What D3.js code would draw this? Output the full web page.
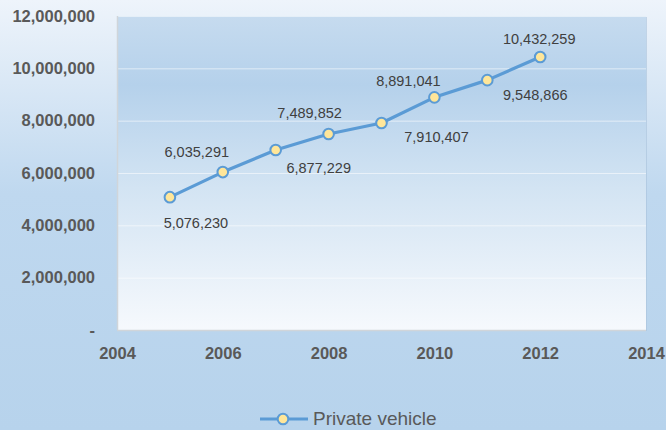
<!DOCTYPE html>
<html><head><meta charset="utf-8">
<script src="https://cdn.jsdelivr.net/npm/d3@7"></script>
<style>html,body{margin:0;padding:0;overflow:hidden;}</style>
</head><body>
<svg id="c" width="666" height="430"></svg>
<script>
const years = [2005, 2006, 2007, 2008, 2009, 2010, 2011, 2012];
const values = [5076230, 6035291, 6877229, 7489852, 7910407, 8891041, 9548866, 10432259];
const seriesName = "Private vehicle";
const xTicks = [2004, 2006, 2008, 2010, 2012, 2014];
const yTicks = [0, 2000000, 4000000, 6000000, 8000000, 10000000, 12000000];
// label offsets (layout) relative to each point: [dx, dy baseline]
const labelOffsets = [[26,31],[-26,-15],[43,23],[-19,-16],[55,19],[-26,-11],[48,20],[-1,-13]];

const svg = d3.select("#c");
const W = 666, H = 430;
const m = {l:117, r:20, t:16, b:100};
const pw = 646 - m.l, ph = 330 - m.t;

const defs = svg.append("defs");
const og = defs.append("linearGradient").attr("id","outer").attr("x1",0).attr("y1",0).attr("x2",0).attr("y2",1);
og.append("stop").attr("offset","0%").attr("stop-color","#eef4fb");
og.append("stop").attr("offset","45%").attr("stop-color","#bfd8ef");
og.append("stop").attr("offset","100%").attr("stop-color","#b7d3ec");
const pg = defs.append("linearGradient").attr("id","plot").attr("x1",0).attr("y1",0).attr("x2",0).attr("y2",1);
pg.append("stop").attr("offset","0%").attr("stop-color","#c6dbef");
pg.append("stop").attr("offset","22%").attr("stop-color","#b5d1eb");
pg.append("stop").attr("offset","55%").attr("stop-color","#d3e4f3");
pg.append("stop").attr("offset","100%").attr("stop-color","#f6f9fd");

svg.append("rect").attr("width",W).attr("height",H).attr("fill","url(#outer)");

const x = d3.scaleLinear().domain([2004, 2014]).range([m.l, m.l + pw]);
const y = d3.scaleLinear().domain([0, 12000000]).range([m.t + ph, m.t]);

// plot area shadow + fill
svg.append("rect").attr("x", m.l+1).attr("y", m.t+1).attr("width", pw).attr("height", ph)
  .attr("fill","#a9c2da").attr("opacity",0.6);
svg.append("rect").attr("x", m.l).attr("y", m.t).attr("width", pw).attr("height", ph)
  .attr("fill","url(#plot)");

// gridlines
svg.append("g").selectAll("line").data(yTicks.filter(d=>d>0)).join("line")
  .attr("x1", m.l).attr("x2", m.l+pw).attr("y1", d=>y(d)+0.5).attr("y2", d=>y(d)+0.5)
  .attr("stroke","#ffffff").attr("stroke-opacity",0.55).attr("stroke-width",1);

// axis borders
svg.append("line").attr("x1", m.l+0.5).attr("x2", m.l+0.5).attr("y1", m.t).attr("y2", m.t+ph)
  .attr("stroke","#d0d5da").attr("stroke-width",1.5);
svg.append("line").attr("x1", m.l).attr("x2", m.l+pw).attr("y1", m.t+ph+0.5).attr("y2", m.t+ph+0.5)
  .attr("stroke","#d0d5da").attr("stroke-width",1.5);

const font = "'Liberation Sans', Arial, sans-serif";
const fmt = d3.format(",");

// Y axis
const yAxis = d3.axisLeft(y).tickValues(yTicks).tickSize(0).tickPadding(22)
  .tickFormat(d => d === 0 ? "-" : fmt(d));
const gy = svg.append("g").attr("transform", `translate(${m.l},0)`).call(yAxis);
gy.select(".domain").remove();
gy.selectAll("text").attr("font-family", font).attr("font-size", 16.5).attr("font-weight","bold")
  .attr("fill","#595959");

// X axis
const xAxis = d3.axisBottom(x).tickValues(xTicks).tickSize(0).tickPadding(17).tickFormat(d3.format("d"));
const gx = svg.append("g").attr("transform", `translate(0,${m.t+ph})`).call(xAxis);
gx.select(".domain").remove();
gx.selectAll("text").attr("font-family", font).attr("font-size", 16.5).attr("font-weight","bold")
  .attr("fill","#595959");

// line
const data = years.map((yr,i)=>({yr, v: values[i], off: labelOffsets[i]}));
svg.append("path").datum(data)
  .attr("d", d3.line().x(d=>x(d.yr)).y(d=>y(d.v)))
  .attr("fill","none").attr("stroke","#5b9bd5").attr("stroke-width",3.2).attr("stroke-linejoin","round");

svg.append("g").selectAll("circle").data(data).join("circle")
  .attr("cx", d=>x(d.yr)).attr("cy", d=>y(d.v)).attr("r",5.3)
  .attr("fill","#ffe699").attr("stroke","#5b9bd5").attr("stroke-width",2);

svg.append("g").selectAll("text").data(data).join("text")
  .attr("x", d=>x(d.yr)+d.off[0]).attr("y", d=>y(d.v)+d.off[1])
  .attr("text-anchor","middle").attr("font-family", font).attr("font-size",14.5)
  .attr("fill","#404040").text(d=>fmt(d.v));

// legend
const lg = svg.append("g");
lg.append("line").attr("x1",260).attr("x2",308).attr("y1",419).attr("y2",419)
  .attr("stroke","#5b9bd5").attr("stroke-width",3.2);
lg.append("circle").attr("cx",283).attr("cy",419).attr("r",5.3)
  .attr("fill","#ffe699").attr("stroke","#5b9bd5").attr("stroke-width",2);
lg.append("text").attr("x",313).attr("y",425).attr("font-family", font).attr("font-size",19)
  .attr("fill","#595959").text(seriesName);
</script>
</body></html>
